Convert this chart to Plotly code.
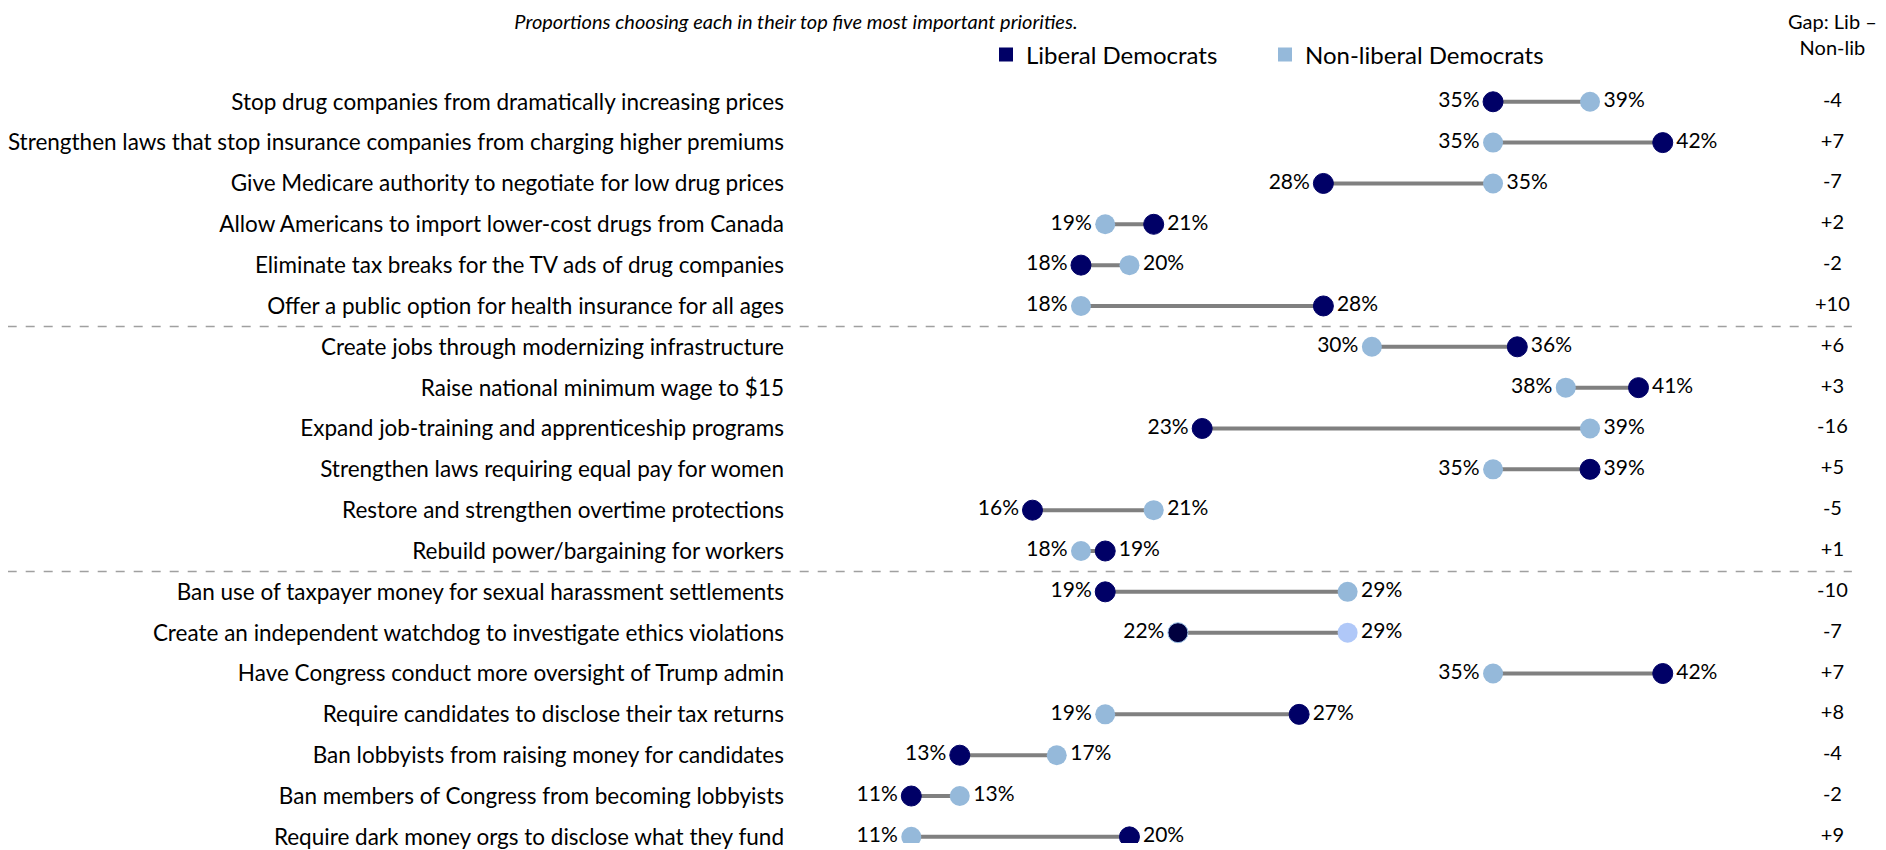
import plotly.graph_objects as go

# priorities, top to bottom
policies = [
    "Stop drug companies from dramatically increasing prices",
    "Strengthen laws that stop insurance companies from charging higher premiums",
    "Give Medicare authority to negotiate for low drug prices",
    "Allow Americans to import lower-cost drugs from Canada",
    "Eliminate tax breaks for the TV ads of drug companies",
    "Offer a public option for health insurance for all ages",
    "Create jobs through modernizing infrastructure",
    "Raise national minimum wage to $15",
    "Expand job-training and apprenticeship programs",
    "Strengthen laws requiring equal pay for women",
    "Restore and strengthen overtime protections",
    "Rebuild power/bargaining for workers",
    "Ban use of taxpayer money for sexual harassment settlements",
    "Create an independent watchdog to investigate ethics violations",
    "Have Congress conduct more oversight of Trump admin",
    "Require candidates to disclose their tax returns",
    "Ban lobbyists from raising money for candidates",
    "Ban members of Congress from becoming lobbyists",
    "Require dark money orgs to disclose what they fund",
]
liberal = [35, 42, 28, 21, 18, 28, 36, 41, 23, 39, 16, 19, 19, 22, 42, 27, 13, 11, 20]
non_liberal = [39, 35, 35, 19, 20, 18, 30, 38, 39, 35, 21, 18, 29, 29, 35, 19, 17, 13, 11]
gaps = ["-4", "+7", "-7", "+2", "-2", "+10", "+6", "+3", "-16", "+5",
        "-5", "+1", "-10", "-7", "+7", "+8", "-4", "-2", "+9"]
section_ends = [5, 11]

NAVY = "#000066"
LIGHT = "#95b9da"
FONT = "Lato"
GAP_X = 49
W, H = 1878, 842   # page adds an 8px body margin

lib_colors = [NAVY] * len(policies)
non_colors = [LIGHT] * len(policies)
lib_colors[13] = "#00003f"   # watchdog row is coloured a bit differently
non_colors[13] = "#b0c8f8"

fig = go.Figure()

# connector lines
cx, cy = [], []
for p, a, b in zip(policies, liberal, non_liberal):
    cx += [a, b, None]
    cy += [p, p, None]
fig.add_trace(go.Scatter(x=cx, y=cy, mode="lines", line=dict(color="#808080", width=4),
                         hoverinfo="skip", showlegend=False))

fig.add_trace(go.Scatter(
    x=non_liberal, y=policies, mode="markers+text", showlegend=False,
    marker=dict(color=non_colors, size=20),
    text=[f"{v}%" for v in non_liberal],
    textposition=["middle right" if b > a else "middle left" for a, b in zip(liberal, non_liberal)],
    textfont=dict(size=21, color="black", family=FONT),
    name="Non-liberal Democrats",
))
fig.add_trace(go.Scatter(
    x=liberal, y=policies, mode="markers+text", showlegend=False,
    marker=dict(color=lib_colors, size=20,
                line=dict(color=["#9dc3e6" if i == 13 else NAVY for i in range(len(policies))], width=1)),
    text=[f"{v}%" for v in liberal],
    textposition=["middle right" if a > b else "middle left" for a, b in zip(liberal, non_liberal)],
    textfont=dict(size=21, color="black", family=FONT),
    name="Liberal Democrats",
))

# gap column
fig.add_trace(go.Scatter(x=[GAP_X] * len(policies), y=policies, mode="text", text=gaps,
                         textposition="middle center", showlegend=False, cliponaxis=False,
                         textfont=dict(size=20, color="black", family=FONT)))

# legend entries
fig.add_trace(go.Scatter(x=[None], y=[None], mode="markers", name="Liberal Democrats",
                         marker=dict(symbol="square", color=NAVY, size=14)))
fig.add_trace(go.Scatter(x=[None], y=[None], mode="markers", name="Non-liberal Democrats",
                         marker=dict(symbol="square", color=LIGHT, size=14)))

for s in section_ends:
    fig.add_shape(type="line", xref="paper", yref="y", x0=-0.706, x1=0.969,
                  y0=s + 0.5, y1=s + 0.5, line=dict(color="#a0a0a0", width=1.5, dash="dash"))

fig.add_annotation(text="Gap: Lib –<br>Non-lib", xref="x", yref="paper",
                   x=GAP_X, y=1.058, xanchor="center", yanchor="middle",
                   showarrow=False, font=dict(size=20, color="black", family=FONT))

fig.update_layout(
    width=W, height=H,
    paper_bgcolor="white", plot_bgcolor="white",
    margin=dict(l=777, r=0, t=70, b=0),
    font=dict(family=FONT, size=20, color="black"),
    title=dict(text="<i>Proportions choosing each in their top five most important priorities.</i>",
               x=788 / W, xanchor="center", y=1 - 14 / H, yanchor="middle",
               font=dict(size=20, color="black", family=FONT)),
    legend=dict(orientation="h", xref="container", yref="container",
                x=978 / W, y=1 - 47 / H, xanchor="left", yanchor="middle",
                entrywidth=234, entrywidthmode="pixels", itemwidth=30,
                font=dict(size=24, color="black", family=FONT)),
    xaxis=dict(range=[5.79, 51.21], showticklabels=False, showgrid=False, zeroline=False),
    yaxis=dict(range=[18.15, -0.582], showgrid=False, zeroline=False,
               tickfont=dict(size=22.5, color="black", family=FONT)),
)

fig.write_html("out.html")
